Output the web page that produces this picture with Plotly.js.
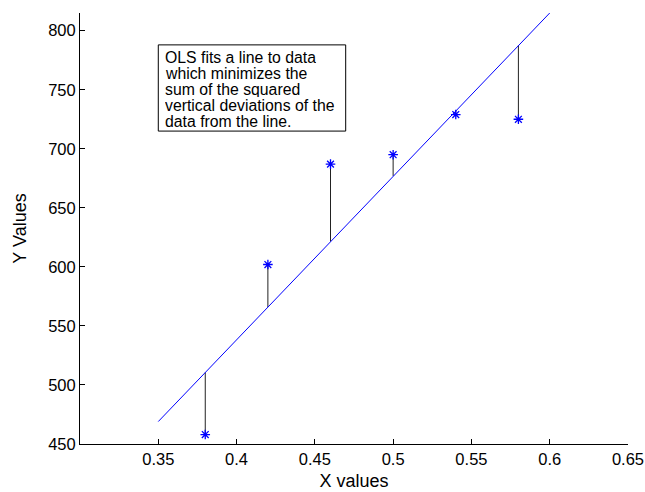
<!DOCTYPE html>
<html><head><meta charset="utf-8">
<script src="https://cdn.plot.ly/plotly-3.0.1.min.js"></script>
<style>html,body{margin:0;padding:0;background:#fff}#chart{width:645px;height:492px}</style>
</head><body><div id="chart"></div>
<script>
// Observed data
const xVals = [0.38, 0.42, 0.46, 0.50, 0.54, 0.58];
const yVals = [458, 602, 687, 695, 729, 725];
// Fitted line (as drawn) and fitted values at each x
const lineX = [0.35, 0.60];
const lineY = [469, 815];
const fitVals = [510.6, 566, 621.5, 677, 732.3, 787.7];
const xTicks = [0.35, 0.4, 0.45, 0.5, 0.55, 0.6, 0.65];
const xTickText = ['0.35', '0.4', '0.45', '0.5', '0.55', '0.6', '0.65'];
const yTicks = [450, 500, 550, 600, 650, 700, 750, 800];
const noteLines = ['OLS fits a line to data', 'which minimizes the', 'sum of the squared', 'vertical deviations of the', 'data from the line.'];

const segX = [], segY = [];
xVals.forEach((x, i) => { segX.push(x, x, null); segY.push(yVals[i], fitVals[i], null); });

const font = 'Liberation Sans, Arial, Helvetica, sans-serif';
const traces = [
  {x: segX, y: segY, mode: 'lines', line: {color: '#222', width: 1}, hoverinfo: 'skip', showlegend: false, connectgaps: false},
  {x: lineX, y: lineY, mode: 'lines', line: {color: '#0000ff', width: 1}, showlegend: false},
  {x: xVals, y: yVals, mode: 'markers', marker: {symbol: 'asterisk-open', size: 8, color: '#0000ff', line: {color: '#0000ff', width: 1.3}}, showlegend: false}
];

// text box layout (positions only)
const boxLeft = 0.35, boxRight = 0.4697, boxTop = 788, boxBottom = 715;
const textLeft = 0.3535, firstLineY = 777.8, linePitch = 13.56;
const annotations = noteLines.map((t, i) => ({
  x: textLeft, y: firstLineY - i * linePitch, xref: 'x', yref: 'y', xanchor: 'left', yanchor: 'middle', align: 'left',
  text: t, showarrow: false, height: 16, borderpad: 0, font: {family: font, size: 15.8, color: '#000'}
}));

const layout = {
  width: 645, height: 492,
  margin: {l: 80, r: 17, t: 13, b: 48},
  paper_bgcolor: '#fff', plot_bgcolor: '#fff',
  font: {family: font, color: '#000', size: 16.5},
  xaxis: {range: [0.3, 0.65], tickvals: xTicks, ticktext: xTickText, ticks: 'inside', ticklen: 5, tickcolor: '#000',
    showline: true, linecolor: '#000', linewidth: 1, showgrid: false, zeroline: false, mirror: false,
    tickfont: {size: 16.5}, title: {text: 'X values', font: {size: 18}, standoff: 7}, automargin: false},
  yaxis: {range: [450, 815], tickvals: yTicks, ticks: 'inside', ticklen: 5, tickcolor: '#000',
    showline: true, linecolor: '#000', linewidth: 1, showgrid: false, zeroline: false, mirror: false,
    tickfont: {size: 16.5}, title: {text: 'Y Values', font: {size: 18}, standoff: 16}, automargin: false},
  shapes: [{type: 'rect', xref: 'x', yref: 'y', x0: boxLeft, x1: boxRight, y0: boxBottom, y1: boxTop,
    line: {color: '#000', width: 1}, fillcolor: '#fff', layer: 'below'}],
  annotations: annotations
};
Plotly.newPlot('chart', traces, layout, {displayModeBar: false, staticPlot: true});
</script></body></html>
